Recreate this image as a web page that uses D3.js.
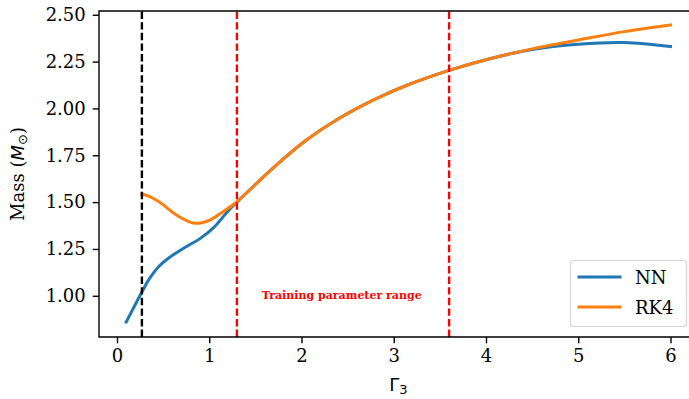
<!DOCTYPE html>
<html>
<head>
<meta charset="utf-8">
<script src="https://cdn.jsdelivr.net/npm/d3@7"></script>
<style>
  body { margin: 0; background: #fff; }
  svg { display: block; }
</style>
</head>
<body>
<div id="chart"></div>
<script>
// Mass vs Gamma_3 : NN against RK4

const width = 689,
    height = 399;

// plot area (right edge falls just outside the picture)
const plot = {left: 99, right: 697.7, top: 11, bottom: 337};

// data
const nnGamma = [0.1, 0.2, 0.27, 0.35, 0.45, 0.55, 0.75, 0.9, 1.05, 1.2, 1.3, 1.55, 1.7, 2.05, 2.4, 2.8, 3.15, 3.6, 4.0, 4.5, 5.0, 5.5, 6.0];
const nnMass  = [0.86, 0.955, 1.02, 1.09, 1.155, 1.198, 1.262, 1.305, 1.365, 1.45, 1.50, 1.617, 1.686, 1.83, 1.945, 2.05, 2.125, 2.203, 2.26, 2.315, 2.343, 2.352, 2.33];

const rkGamma = [0.27, 0.35, 0.46, 0.645, 0.84, 1.0, 1.15, 1.3, 1.55, 1.7, 2.05, 2.4, 2.8, 3.15, 3.6, 4.0, 4.5, 5.0, 5.5, 6.0];
const rkMass  = [1.543, 1.53, 1.50, 1.431, 1.387, 1.403, 1.449, 1.502, 1.617, 1.686, 1.83, 1.945, 2.05, 2.125, 2.203, 2.26, 2.318, 2.365, 2.41, 2.445];

const blackLine = [0.27];
const redLines = [1.3, 3.6];

const xTicks = [0, 1, 2, 3, 4, 5, 6];
const yTicks = [1.00, 1.25, 1.50, 1.75, 2.00, 2.25, 2.50];

const seriesNames = ["NN", "RK4"];
const colors = ["#1f77b4", "#ff7f0e"];

const serif = "'DejaVu Serif', serif";

let svg = d3.select("#chart")
  .append("svg")
    .attr("width", width)
    .attr("height", height);

// scales
const x = d3.scaleLinear()
  .domain([-0.195, 6.295])
  .range([plot.left, plot.right]);

const y = d3.scaleLinear()
  .domain([0.78, 2.52])
  .range([plot.bottom, plot.top]);

// axes
const xAxis = svg.append("g")
  .attr("transform", `translate(0, ${plot.bottom})`)
  .call(d3.axisBottom(x).tickValues(xTicks).tickFormat(d3.format("d")).tickSize(6.3).tickPadding(6));

const yAxis = svg.append("g")
  .attr("transform", `translate(${plot.left}, 0)`)
  .call(d3.axisLeft(y).tickValues(yTicks).tickFormat(d3.format(".2f")).tickSize(6.3).tickPadding(7));

[xAxis, yAxis].forEach(a => {
  a.select(".domain").remove();
  a.selectAll(".tick line").attr("stroke", "#000").attr("stroke-width", 1.4);
  a.selectAll(".tick text")
    .attr("fill", "#000")
    .style("font-family", serif)
    .style("font-size", "18px");
});

// clip to the plot area
svg.append("clipPath")
  .attr("id", "clip")
  .append("rect")
    .attr("x", plot.left)
    .attr("y", plot.top)
    .attr("width", plot.right - plot.left)
    .attr("height", plot.bottom - plot.top);

const area = svg.append("g").attr("clip-path", "url(#clip)");

// curves
const line = d3.line()
  .x(d => x(d[0]))
  .y(d => y(d[1]))
  .curve(d3.curveCatmullRom.alpha(0.5));

const series = [
  d3.zip(nnGamma, nnMass),
  d3.zip(rkGamma, rkMass)
];

area.selectAll("path.curve")
  .data(series)
  .join("path")
    .attr("class", "curve")
    .attr("d", line)
    .attr("fill", "none")
    .attr("stroke", (d, i) => colors[i])
    .attr("stroke-width", 3)
    .attr("stroke-linecap", "square");

// vertical dashed markers, drawn from the bottom up like axvline
const vlines = blackLine.map(v => ({v: v, c: "#000"}))
  .concat(redLines.map(v => ({v: v, c: "#ff0000"})));

area.selectAll("line.vline")
  .data(vlines)
  .join("line")
    .attr("class", "vline")
    .attr("x1", d => x(d.v))
    .attr("x2", d => x(d.v))
    .attr("y1", plot.bottom)
    .attr("y2", plot.top)
    .attr("stroke", d => d.c)
    .attr("stroke-width", 2.4)
    .attr("stroke-dasharray", "7.4,3.2");

// annotation
svg.append("text")
  .attr("x", x(1.57))
  .attr("y", 299)
  .attr("fill", "#ff0000")
  .style("font-family", serif)
  .style("font-weight", "bold")
  .style("font-size", "11px")
  .text("Training parameter range");

// spines (left, bottom, top)
svg.append("path")
  .attr("d", `M${plot.right},${plot.top}H${plot.left}V${plot.bottom}H${plot.right}`)
  .attr("fill", "none")
  .attr("stroke", "#000")
  .attr("stroke-width", 1.4);

// axis labels
const yl = svg.append("text")
  .attr("transform", `translate(24, ${(plot.top + plot.bottom) / 2}) rotate(-90)`)
  .attr("text-anchor", "middle")
  .attr("fill", "#000")
  .style("font-family", serif)
  .style("font-size", "18px");
yl.append("tspan").text("Mass (");
yl.append("tspan").style("font-family", "'DejaVu Sans', sans-serif").style("font-style", "italic").text("M");
yl.append("tspan").attr("dy", 3).style("font-family", "'DejaVu Sans', sans-serif").style("font-size", "13px").text("⊙");
yl.append("tspan").attr("dy", -3).text(")");

const xl = svg.append("text")
  .attr("x", (plot.left + plot.right) / 2)
  .attr("y", 391)
  .attr("text-anchor", "middle")
  .attr("fill", "#000")
  .style("font-family", "'DejaVu Sans', sans-serif")
  .style("font-size", "18px");
xl.append("tspan").text("Γ");
xl.append("tspan").attr("dy", 3).style("font-size", "13px").text("3");

// legend
const legend = svg.append("g");

legend.append("rect")
  .attr("x", 570.5)
  .attr("y", 260.5)
  .attr("width", 116)
  .attr("height", 66)
  .attr("rx", 3)
  .attr("fill", "#fff")
  .attr("fill-opacity", 0.8)
  .attr("stroke", "#d5d5d5")
  .attr("stroke-width", 1.2);

legend.selectAll("line.key")
  .data(seriesNames)
  .join("line")
    .attr("class", "key")
    .attr("x1", 577.5)
    .attr("x2", 621.5)
    .attr("y1", (d, i) => 277 + i * 30)
    .attr("y2", (d, i) => 277 + i * 30)
    .attr("stroke", (d, i) => colors[i])
    .attr("stroke-width", 3);

legend.selectAll("text.key")
  .data(seriesNames)
  .join("text")
    .attr("class", "key")
    .attr("x", 635)
    .attr("y", (d, i) => 284 + i * 30)
    .attr("fill", "#000")
    .style("font-family", serif)
    .style("font-size", "18px")
    .text(d => d);
</script>
</body>
</html>
